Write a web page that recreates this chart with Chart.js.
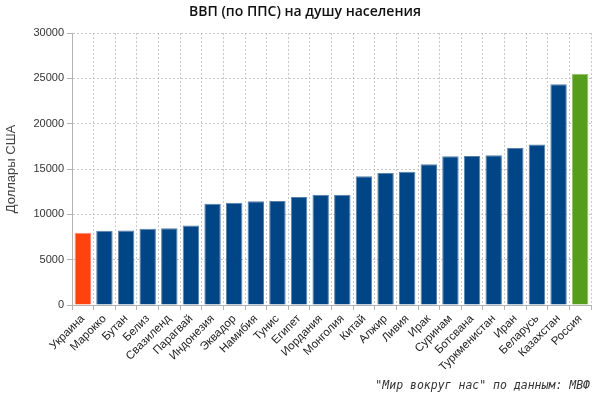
<!DOCTYPE html>
<html>
<head>
<meta charset="utf-8">
<script src="https://cdn.jsdelivr.net/npm/chart.js@4"></script>
<style>
  html, body { margin: 0; padding: 0; background: #fff; }
  #wrap { width: 600px; height: 397px; }
</style>
</head>
<body>
<div id="wrap"><canvas id="gdpChart" width="600" height="397"></canvas></div>
<script>
const countries = ["Украина", "Марокко", "Бутан", "Белиз", "Свазиленд", "Парагвай", "Индонезия", "Эквадор",
  "Намибия", "Тунис", "Египет", "Иордания", "Монголия", "Китай", "Алжир", "Ливия", "Ирак", "Суринам",
  "Ботсвана", "Туркменистан", "Иран", "Беларусь", "Казахстан", "Россия"];
const gdpPerCapita = [7960, 8190, 8220, 8410, 8470, 8770, 11170, 11280,
  11430, 11460, 11900, 12170, 12170, 14190, 14560, 14710, 15520, 16400,
  16440, 16510, 17320, 17700, 24340, 25510];
const yTicks = [0, 5000, 10000, 15000, 20000, 25000, 30000];

const titleText = "ВВП (по ППС) на душу населения";
const yTitleText = "Доллары США";
const footerText = "\"Мир вокруг нас\" по данным: МВФ";

const BLUE = "#004586", ORANGE = "#ff420e", GREEN = "#579d1c";
const fillFor = c => c === "Украина" ? ORANGE : (c === "Россия" ? GREEN : BLUE);
const edgeFor = c => c === "Украина" ? "#ff8c6e" : (c === "Россия" ? "#93c06c" : "#5a80a8");

// title and source line drawn on the canvas
const captions = {
  id: "captions",
  afterDraw(chart) {
    const ctx = chart.ctx;
    ctx.save();
    ctx.fillStyle = "#111";
    ctx.font = "600 14px 'Open Sans'";
    ctx.textAlign = "center";
    ctx.textBaseline = "middle";
    ctx.fillText(titleText, 305, 12);

    ctx.fillStyle = "#333";
    ctx.font = "italic 11.5px 'DejaVu Sans Mono'";
    ctx.textAlign = "right";
    ctx.fillText(footerText, 590, 386);
    ctx.restore();
  }
};

const gridColor = "#c8c8c8";
const axisColor = "#b3b3b3";

new Chart(document.getElementById("gdpChart"), {
  type: "bar",
  data: {
    labels: countries,
    datasets: [{
      data: gdpPerCapita,
      backgroundColor: countries.map(fillFor),
      borderColor: countries.map(edgeFor),
      borderWidth: 1,
      barPercentage: 0.76,
      categoryPercentage: 1
    }]
  },
  options: {
    responsive: false,
    animation: false,
    layout: { padding: { top: 33, right: 9, bottom: 28, left: 0 } },
    plugins: {
      legend: { display: false },
      tooltip: { enabled: false }
    },
    scales: {
      x: {
        grid: { color: gridColor, tickColor: axisColor, tickLength: 5, offset: true },
        border: { display: true, color: axisColor, width: 1, dash: [2, 2] },
        ticks: {
          autoSkip: false, minRotation: 45, maxRotation: 45, padding: 2,
          color: "#222", font: { family: "'Liberation Sans'", size: 11.5 }
        },
        afterFit(scale) { scale.height = 64; }
      },
      y: {
        min: 0,
        max: 30000,
        afterBuildTicks(scale) { scale.ticks = yTicks.map(v => ({ value: v })); },
        grid: { color: gridColor, tickColor: axisColor, tickLength: 5 },
        border: { display: true, color: axisColor, width: 1, dash: [2, 2] },
        ticks: {
          padding: 3, color: "#333",
          font: { family: "'Liberation Sans'", size: 11 },
          callback: v => String(v)
        },
        title: {
          display: true, text: yTitleText, color: "#444",
          font: { family: "'Liberation Sans'", size: 13 },
          padding: { top: 4, bottom: 0 }
        },
        afterFit(scale) { scale.width = 72; }
      }
    }
  },
  plugins: [captions]
});
</script>
</body>
</html>
